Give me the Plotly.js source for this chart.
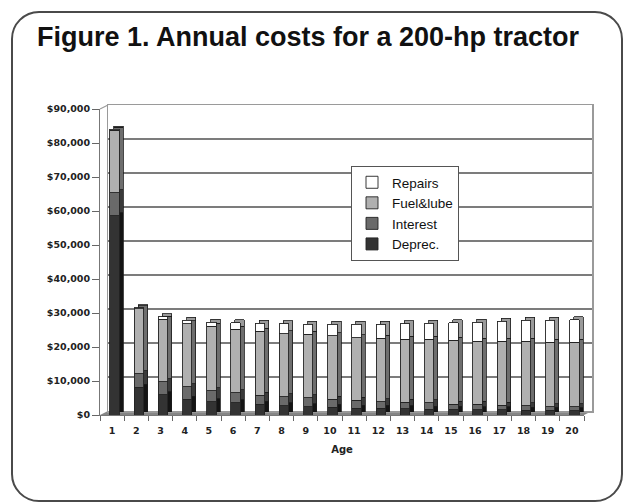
<!DOCTYPE html>
<html><head><meta charset="utf-8">
<script src="https://cdn.plot.ly/plotly-3.0.1.min.js"></script>
<style>
html,body{margin:0;padding:0;background:#fff;}
#wrap{position:relative;width:626px;height:504px;overflow:hidden;}
#frame{position:absolute;left:11px;top:11px;width:612px;height:491px;border:2px solid #4a4a4a;border-radius:28px;box-sizing:border-box;}
#chart{position:absolute;left:0;top:0;width:626px;height:504px;}
</style></head><body>
<div id="wrap"><div id="frame"></div><div id="chart"></div></div>
<script>
// Tractor age (years) – category labels
const ages = ['1','2','3','4','5','6','7','8','9','10','11','12','13','14','15','16','17','18','19','20'];
// Annual cost components ($)
const deprec   = [58600, 8100, 5900, 4600, 3900, 3600, 3100, 2700, 2450, 2250, 2050, 1950, 1850, 1750, 1650, 1600, 1500, 1400, 1400, 1300];
const interest = [6800, 4100, 3900, 3700, 3250, 2950, 2750, 2650, 2600, 2350, 2300, 2000, 1850, 1800, 1550, 1500, 1350, 1300, 1100, 1100];
const fuel     = [18400, 19100, 18300, 18600, 18950, 18700, 18850, 18600, 18650, 18750, 18400, 18650, 18650, 18700, 18750, 18650, 18850, 18950, 18950, 18950];
const repairs  = [300, 250, 800, 1000, 1250, 1950, 2350, 2900, 2950, 3300, 3900, 4100, 4500, 4700, 5200, 5550, 5850, 6150, 6450, 6650];
const seriesNames = ['Deprec.', 'Interest', 'Fuel&lube', 'Repairs'];

const seriesData = [deprec, interest, fuel, repairs];
const frontColors = ['#333333', '#6a6a6a', '#b0b0b0', '#ffffff'];
const sideColors  = ['#141414', '#3a3a3a', '#6e6e6e', '#9a9a9a'];

const W = 626, H = 504, ML = 100, MR = 34, MT = 105, MB = 87;
const PW = W - ML - MR, PH = H - MT - MB;

const traces = [];
// empty trace to create the back-wall subplot
traces.push({type:'scatter', x:[], y:[], xaxis:'x', yaxis:'y', showlegend:false, hoverinfo:'skip'});
// side/top faces (shifted copy)
seriesData.forEach((d, i) => {
  traces.push({type:'bar', x:ages, y:d, xaxis:'x2', yaxis:'y2', name:seriesNames[i],
    showlegend:false, width:0.39, offset:-0.09,
    marker:{color:sideColors[i], line:{color:'#1a1a1a', width:0.8}}, hoverinfo:'skip'});
});
// front faces
seriesData.forEach((d, i) => {
  traces.push({type:'bar', x:ages, y:d, xaxis:'x3', yaxis:'y3', name:seriesNames[i],
    width:0.39, offset:-0.09,
    marker:{color:frontColors[i], line:{color:'#222222', width:0.9}}, hoverinfo:'skip'});
});

const tickFont = {family:'DejaVu Sans', size:9.5, weight:'bold', color:'#222'};
const layout = {
  width: W, height: H,
  margin: {l:ML, r:MR, t:MT, b:MB, pad:0},
  paper_bgcolor: 'rgba(0,0,0,0)',
  plot_bgcolor: 'rgba(0,0,0,0)',
  barmode: 'stack',
  showlegend: true,
  hovermode: false,
  title: {text:'<b>Figure 1. Annual costs for a 200-hp tractor</b>',
    font:{family:'Liberation Sans', size:27, color:'#111'},
    x: 37/W, xanchor:'left', y: 1 - 37/H, yanchor:'middle'},
  legend: {x:(351-ML)/PW, y:(H-MB-166)/PH, xanchor:'left', yanchor:'top',
    bgcolor:'#fff', bordercolor:'#555', borderwidth:1, traceorder:'reversed',
    font:{family:'Liberation Sans', size:13.5, color:'#111'}},
  // back wall
  xaxis: {domain:[8/PW, 1], range:[0,1], showticklabels:false, ticks:'', showgrid:false, zeroline:false,
    showline:true, mirror:true, linecolor:'#9a9a9a', linewidth:1.5, fixedrange:true},
  yaxis: {domain:[6/PH, 1], range:[0,90000], tickmode:'linear', tick0:0, dtick:10000,
    showticklabels:false, ticks:'', showgrid:true, gridcolor:'#7c7c7c', gridwidth:1.5, zeroline:false,
    showline:true, mirror:true, linecolor:'#9a9a9a', linewidth:1.5, fixedrange:true},
  // side faces
  xaxis2: {domain:[4/PW, (PW-4)/PW], anchor:'y2', type:'category', categoryorder:'array', categoryarray:ages,
    range:[-0.5, 19.5], visible:false, fixedrange:true},
  yaxis2: {domain:[5/PH, (PH-1)/PH], anchor:'x2', range:[0,90000], visible:false, fixedrange:true},
  // front
  xaxis3: {domain:[0, (PW-8)/PW], anchor:'y3', type:'category', categoryorder:'array', categoryarray:ages,
    range:[-0.5, 19.5], tickson:'boundaries', ticks:'outside', ticklen:5, tickcolor:'#666',
    ticklabelstandoff:7,
    showline:true, linecolor:'#777', linewidth:1, showgrid:false, zeroline:false,
    tickfont:tickFont, fixedrange:true,
    title:{text:'Age', font:{family:'DejaVu Sans', size:10, weight:'bold', color:'#222'}, standoff:10}},
  yaxis3: {domain:[2/PH, 308/PH], anchor:'x3', range:[0,90000], tickmode:'linear', tick0:0, dtick:10000,
    ticks:'outside', ticklen:7, tickcolor:'#666', showline:true, linecolor:'#777', linewidth:1,
    showgrid:false, zeroline:false, tickprefix:'$', tickformat:',d', tickfont:tickFont, fixedrange:true},
  shapes: [
    {type:'path', xref:'paper', yref:'paper', layer:'below',
     path:`M 0 ${2/PH} L ${(PW-8)/PW} ${2/PH} L 1 ${6/PH} L ${8/PW} ${6/PH} Z`,
     fillcolor:'#858585', line:{width:0}},
    {type:'line', xref:'paper', yref:'paper', x0:0, y0:308/PH, x1:8/PW, y1:1,
     line:{color:'#9a9a9a', width:1.2}}
  ]
};

Plotly.newPlot('chart', traces, layout, {displayModeBar:false, staticPlot:true});
</script>
</body></html>
